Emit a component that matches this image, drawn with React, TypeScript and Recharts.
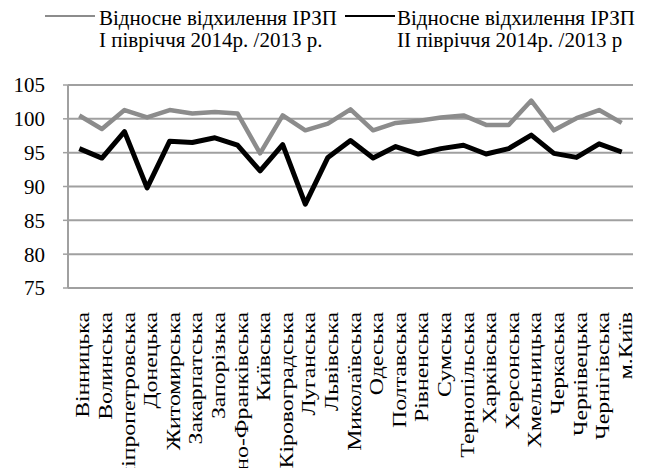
import { LineChart, Line, XAxis, YAxis, CartesianGrid, Legend } from 'recharts'

const regions = [
  'Вінницька', 'Волинська', 'Дніпропетровська', 'Донецька', 'Житомирська', 'Закарпатська',
  'Запорізька', 'Івано-Франківська', 'Київська', 'Кіровоградська', 'Луганська', 'Львівська',
  'Миколаївська', 'Одеська', 'Полтавська', 'Рівненська', 'Сумська', 'Тернопільська',
  'Харківська', 'Херсонська', 'Хмельницька', 'Черкаська', 'Чернівецька', 'Чернігівська', 'м.Київ',
]

// I півріччя 2014р. / 2013 р.
const half1 = [
  100.5, 98.5, 101.3, 100.2, 101.3, 100.8, 101.0, 100.8, 94.9, 100.5, 98.3, 99.3, 101.4,
  98.3, 99.4, 99.7, 100.2, 100.5, 99.1, 99.1, 102.7, 98.3, 100.1, 101.3, 99.4,
]

// II півріччя 2014р. / 2013 р
const half2 = [
  95.6, 94.2, 98.1, 89.8, 96.7, 96.5, 97.2, 96.1, 92.3, 96.2, 87.4, 94.3, 96.8,
  94.2, 95.9, 94.8, 95.6, 96.1, 94.8, 95.6, 97.6, 94.9, 94.3, 96.3, 95.1,
]

const yTicks = [75, 80, 85, 90, 95, 100, 105]

const seriesNames = ['Відносне відхилення ІРЗП', 'Відносне відхилення ІРЗП']
const seriesSub = ['І півріччя 2014р. /2013 р.', 'ІІ півріччя 2014р. /2013 р']

const GRAY = '#8c8c8c'
const GRID = '#a0a0a0'
const FONT = 'Liberation Serif, DejaVu Serif, serif'
const textStyle = { fontFamily: FONT }

const data = regions.map((name, i) => ({ idx: i, name, h1: half1[i], h2: half2[i] }))
const nameTicks = regions.map((_, i) => i)
const markTicks = [...regions.map((_, i) => i - 0.5), regions.length - 0.5]

function RegionTick(props: any) {
  const { x, y, payload } = props
  return (
    <text
      transform={`translate(${x + 10},${y + 19}) rotate(-90) scale(1.25,1)`}
      textAnchor="end"
      fontSize={19}
      style={textStyle}
      fill="#000"
    >
      {regions[payload.value]}
    </text>
  )
}

function LegendBox() {
  const items = [
    { color: GRAY, lineX: 45, textX: 99 },
    { color: '#000', lineX: 345, textX: 397 },
  ]
  return (
    <svg width={654} height={55}>
      {items.map((it, i) => (
        <g key={i}>
          <line x1={it.lineX} x2={it.lineX + 50} y1={16} y2={16} stroke={it.color} strokeWidth={2} />
          <text x={it.textX} y={25} fontSize={21} style={textStyle} fill="#000">{seriesNames[i]}</text>
          <text x={it.textX} y={47} fontSize={21} style={textStyle} fill="#000">{seriesSub[i]}</text>
        </g>
      ))}
    </svg>
  )
}

export default function App() {
  return (
    <div style={{ width: 654, height: 468, background: '#fff' }}>
      <style>{'body{margin:0}'}</style>
      <LineChart width={654} height={468} data={data} margin={{ top: 30, right: 21, bottom: 0, left: 0 }}>
        <Legend
          verticalAlign="top"
          align="left"
          content={() => <LegendBox />}
          wrapperStyle={{ top: 0, left: 0, width: 654, height: 55 }}
        />
        <CartesianGrid xAxisId="names" vertical={false} stroke={GRID} strokeWidth={2} />
        <XAxis
          xAxisId="marks"
          dataKey="idx"
          type="number"
          domain={[-0.5, regions.length - 0.5]}
          ticks={markTicks}
          tick={false}
          tickSize={5}
          height={5}
          axisLine={{ stroke: GRID, strokeWidth: 2 }}
          tickLine={{ stroke: GRID, strokeWidth: 1.5 }}
        />
        <XAxis
          xAxisId="names"
          dataKey="idx"
          type="number"
          domain={[-0.5, regions.length - 0.5]}
          ticks={nameTicks}
          interval={0}
          axisLine={false}
          tickLine={false}
          tickSize={0}
          tickMargin={0}
          height={175}
          tick={<RegionTick />}
        />
        <YAxis
          domain={[75, 105]}
          ticks={yTicks}
          width={68}
          tickSize={5}
          tickMargin={18}
          axisLine={{ stroke: GRID, strokeWidth: 2 }}
          tickLine={{ stroke: GRID, strokeWidth: 1.5 }}
          tick={{ fontSize: 21, style: textStyle, fill: '#000' }}
        />
        <Line
          xAxisId="names"
          dataKey="h1"
          stroke={GRAY}
          strokeWidth={4.5}
          dot={false}
          strokeLinejoin="round"
          isAnimationActive={false}
        />
        <Line
          xAxisId="names"
          dataKey="h2"
          stroke="#000"
          strokeWidth={5}
          dot={false}
          strokeLinejoin="round"
          isAnimationActive={false}
        />
      </LineChart>
    </div>
  )
}
